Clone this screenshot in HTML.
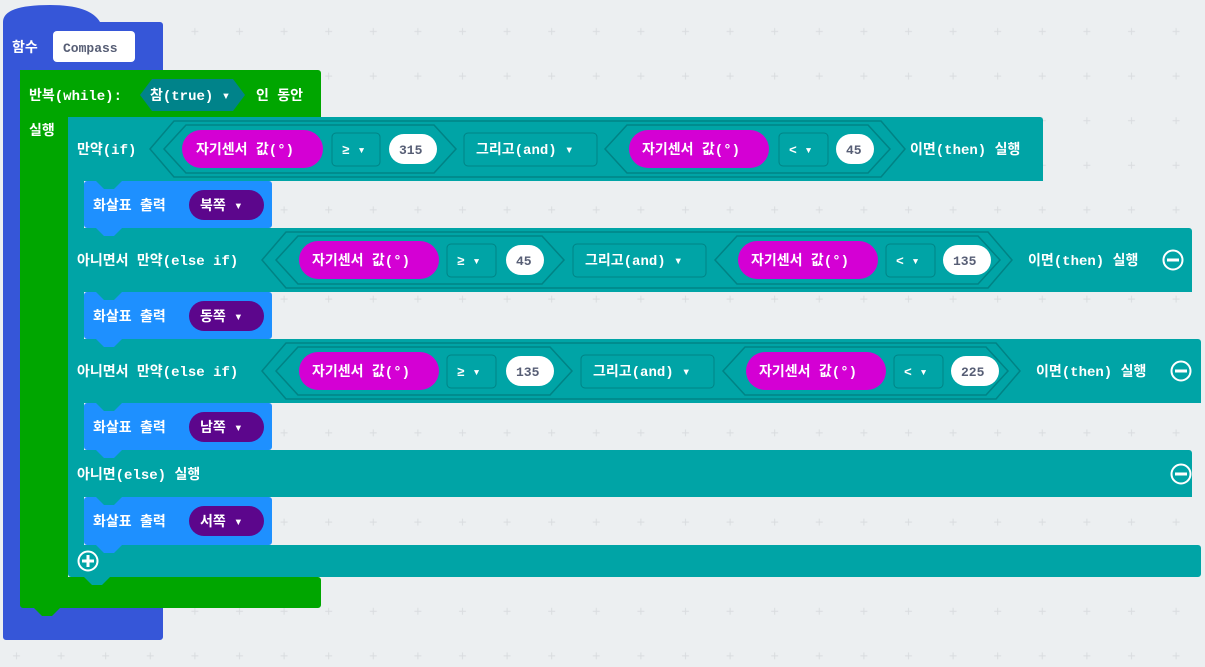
<!DOCTYPE html>
<html><head><meta charset="utf-8"><style>
html,body{margin:0;padding:0;background:#eceff1;}
svg{display:block}
text{font-family:"Liberation Mono","Noto Sans CJK KR",monospace;font-weight:bold;font-size:14px;fill:#fff}
.d{fill:#575e75}
.hx{fill:#00a4a6;stroke:#008385;stroke-width:1.5}
.bx{fill:#00a4a6;stroke:#008385;stroke-width:1}
</style></head><body>
<svg width="1205" height="667" viewBox="0 0 1205 667" xmlns="http://www.w3.org/2000/svg">
<defs>
<pattern id="g" x="5" y="2" width="44.6" height="44.6" patternUnits="userSpaceOnUse">
<path d="M8 29.5h7M11.5 26v7" stroke="#d9dcdf" stroke-width="1"/>
</pattern>
</defs>
<rect width="1205" height="667" fill="url(#g)"/>
<!-- function block -->
<path d="M3 22 Q3 5 50 5 Q90 5 100 22 H160 a3 3 0 0 1 3 3 V70 H20 V590 H160 a3 3 0 0 1 3 3 V637 a3 3 0 0 1 -3 3 H6 a3 3 0 0 1 -3 -3 Z" fill="#3656d8"/>
<text x="12" y="52">함수</text>
<rect x="53" y="31" width="82" height="31" rx="4" fill="#fff"/>
<text x="63" y="52" class="d" style="font-size:13px">Compass</text>
<!-- green while -->
<path d="M20 70 H318 a3 3 0 0 1 3 3 V117 H68 V577 H318 a3 3 0 0 1 3 3 V605 a3 3 0 0 1 -3 3 H60 L52 616 H42 L34 608 H23 a3 3 0 0 1 -3 -3 Z" fill="#00a600"/>
<text x="29" y="100">반복(while):</text>
<polygon points="140,95 152,79 233,79 245,95 233,111 152,111" fill="#00838a"/>
<text x="150" y="100">참(true) ▾</text>
<text x="256" y="100">인 동안</text>
<text x="29" y="135">실행</text>
<!-- teal if -->
<path d="M68 117 H1040 a3 3 0 0 1 3 3 V181 H84 V228 H1189 a3 3 0 0 1 3 3 V292 H84 V339 H1198 a3 3 0 0 1 3 3 V403 H84 V450 H1189 a3 3 0 0 1 3 3 V497 H84 V545 H1198 a3 3 0 0 1 3 3 V574 a3 3 0 0 1 -3 3 H110 L102 585 H92 L84 577 H71 a3 3 0 0 1 -3 -3 Z" fill="#00a4a6"/>
<!-- row1 -->
<text x="77" y="154">만약(if)</text>
<polygon class="hx" points="150,149 174,121 881,121 905,149 881,177 174,177"/>
<polygon class="hx" points="164,149 186,125 434,125 456,149 434,173 186,173"/>
<rect x="182" y="130" width="141" height="38" rx="19" fill="#d400d4"/>
<text x="196" y="154">자기센서 값(°)</text>
<rect class="bx" x="332" y="133" width="48" height="33" rx="4"/>
<text x="342" y="154" style="font-size:13px">≥ ▾</text>
<rect x="389" y="134" width="48" height="30" rx="15" fill="#fff"/>
<text x="399" y="154" class="d" style="font-size:13px">315</text>
<rect class="bx" x="464" y="133" width="133" height="33" rx="4"/>
<text x="476" y="154">그리고(and) ▾</text>
<polygon class="hx" points="605,149 627,125 868,125 890,149 868,173 627,173"/>
<rect x="629" y="130" width="140" height="38" rx="19" fill="#d400d4"/>
<text x="642" y="154">자기센서 값(°)</text>
<rect class="bx" x="779" y="133" width="49" height="33" rx="4"/>
<text x="789" y="154" style="font-size:13px">&lt; ▾</text>
<rect x="836" y="134" width="38" height="30" rx="15" fill="#fff"/>
<text x="846" y="154" class="d" style="font-size:13px">45</text>
<text x="910" y="154">이면(then) 실행</text>
<!-- blue 1 -->
<path d="M84 184 a3 3 0 0 1 3 -3 H269 a3 3 0 0 1 3 3 V225 a3 3 0 0 1 -3 3 H122 L114 236 H104 L96 228 H87 a3 3 0 0 1 -3 -3 Z" fill="#1e90ff"/>
<path d="M96 181 L104 189 H114 L122 181 Z" fill="#00a4a6"/>
<text x="93" y="210">화살표 출력</text>
<rect x="189" y="190" width="75" height="30" rx="15" fill="#5c068c"/>
<text x="200" y="210">북쪽 ▾</text>
<!-- row2 -->
<text x="77" y="265">아니면서 만약(else if)</text>
<polygon class="hx" points="262,260 286,232 988,232 1012,260 988,288 286,288"/>
<polygon class="hx" points="276,260 298,236 542,236 564,260 542,284 298,284"/>
<rect x="299" y="241" width="140" height="38" rx="19" fill="#d400d4"/>
<text x="312" y="265">자기센서 값(°)</text>
<rect class="bx" x="447" y="244" width="49" height="33" rx="4"/>
<text x="457" y="265" style="font-size:13px">≥ ▾</text>
<rect x="506" y="245" width="38" height="30" rx="15" fill="#fff"/>
<text x="516" y="265" class="d" style="font-size:13px">45</text>
<rect class="bx" x="573" y="244" width="133" height="33" rx="4"/>
<text x="585" y="265">그리고(and) ▾</text>
<polygon class="hx" points="715,260 737,236 978,236 1000,260 978,284 737,284"/>
<rect x="738" y="241" width="140" height="38" rx="19" fill="#d400d4"/>
<text x="751" y="265">자기센서 값(°)</text>
<rect class="bx" x="886" y="244" width="49" height="33" rx="4"/>
<text x="896" y="265" style="font-size:13px">&lt; ▾</text>
<rect x="943" y="245" width="48" height="30" rx="15" fill="#fff"/>
<text x="953" y="265" class="d" style="font-size:13px">135</text>
<text x="1028" y="265">이면(then) 실행</text>
<circle cx="1173" cy="260" r="9.5" fill="none" stroke="#fff" stroke-width="2"/><rect x="1167" y="258.5" width="12" height="3" fill="#fff"/>
<!-- blue 2 -->
<path d="M84 295 a3 3 0 0 1 3 -3 H269 a3 3 0 0 1 3 3 V336 a3 3 0 0 1 -3 3 H122 L114 347 H104 L96 339 H87 a3 3 0 0 1 -3 -3 Z" fill="#1e90ff"/>
<path d="M96 292 L104 300 H114 L122 292 Z" fill="#00a4a6"/>
<text x="93" y="321">화살표 출력</text>
<rect x="189" y="301" width="75" height="30" rx="15" fill="#5c068c"/>
<text x="200" y="321">동쪽 ▾</text>
<!-- row3 -->
<text x="77" y="376">아니면서 만약(else if)</text>
<polygon class="hx" points="262,371 286,343 996,343 1020,371 996,399 286,399"/>
<polygon class="hx" points="276,371 298,347 550,347 572,371 550,395 298,395"/>
<rect x="299" y="352" width="140" height="38" rx="19" fill="#d400d4"/>
<text x="312" y="376">자기센서 값(°)</text>
<rect class="bx" x="447" y="355" width="49" height="33" rx="4"/>
<text x="457" y="376" style="font-size:13px">≥ ▾</text>
<rect x="506" y="356" width="48" height="30" rx="15" fill="#fff"/>
<text x="516" y="376" class="d" style="font-size:13px">135</text>
<rect class="bx" x="581" y="355" width="133" height="33" rx="4"/>
<text x="593" y="376">그리고(and) ▾</text>
<polygon class="hx" points="723,371 745,347 986,347 1008,371 986,395 745,395"/>
<rect x="746" y="352" width="140" height="38" rx="19" fill="#d400d4"/>
<text x="759" y="376">자기센서 값(°)</text>
<rect class="bx" x="894" y="355" width="49" height="33" rx="4"/>
<text x="904" y="376" style="font-size:13px">&lt; ▾</text>
<rect x="951" y="356" width="48" height="30" rx="15" fill="#fff"/>
<text x="961" y="376" class="d" style="font-size:13px">225</text>
<text x="1036" y="376">이면(then) 실행</text>
<circle cx="1181" cy="371" r="9.5" fill="none" stroke="#fff" stroke-width="2"/><rect x="1175" y="369.5" width="12" height="3" fill="#fff"/>
<!-- blue 3 -->
<path d="M84 406 a3 3 0 0 1 3 -3 H269 a3 3 0 0 1 3 3 V447 a3 3 0 0 1 -3 3 H122 L114 458 H104 L96 450 H87 a3 3 0 0 1 -3 -3 Z" fill="#1e90ff"/>
<path d="M96 403 L104 411 H114 L122 403 Z" fill="#00a4a6"/>
<text x="93" y="432">화살표 출력</text>
<rect x="189" y="412" width="75" height="30" rx="15" fill="#5c068c"/>
<text x="200" y="432">남쪽 ▾</text>
<!-- else -->
<text x="77" y="479">아니면(else) 실행</text>
<circle cx="1181" cy="474" r="9.5" fill="none" stroke="#fff" stroke-width="2"/><rect x="1175" y="472.5" width="12" height="3" fill="#fff"/>
<!-- blue 4 -->
<path d="M84 500 a3 3 0 0 1 3 -3 H269 a3 3 0 0 1 3 3 V542 a3 3 0 0 1 -3 3 H122 L114 553 H104 L96 545 H87 a3 3 0 0 1 -3 -3 Z" fill="#1e90ff"/>
<path d="M96 497 L104 505 H114 L122 497 Z" fill="#00a4a6"/>
<text x="93" y="526">화살표 출력</text>
<rect x="189" y="506" width="75" height="30" rx="15" fill="#5c068c"/>
<text x="200" y="526">서쪽 ▾</text>
<!-- plus -->
<circle cx="88" cy="561" r="9.5" fill="none" stroke="#fff" stroke-width="2"/>
<rect x="82" y="559.5" width="12" height="3" fill="#fff"/><rect x="86.5" y="555" width="3" height="12" fill="#fff"/>
</svg>
</body></html>
